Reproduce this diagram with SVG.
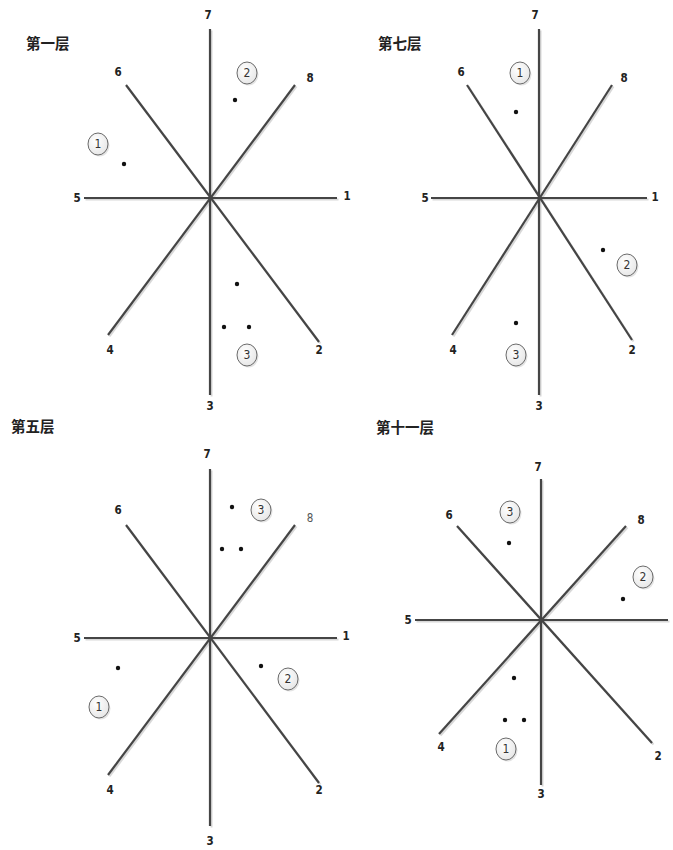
<svg xmlns="http://www.w3.org/2000/svg" width="673" height="850" viewBox="0 0 673 850">
<defs>
<radialGradient id="cg" cx="0.4" cy="0.35" r="0.75"><stop offset="0" stop-color="#ffffff"/><stop offset="1" stop-color="#e4e4e4"/></radialGradient>
<style>
.ax{stroke:#454545;stroke-width:2.2;fill:none;stroke-linecap:butt}
.sh{stroke:#c8c8c8;stroke-width:2;fill:none;opacity:0.7}
.lb{font-family:"DejaVu Sans Condensed","Liberation Sans",sans-serif;font-size:11.5px;font-weight:bold;fill:#222;text-anchor:middle;dominant-baseline:central}
.lt{font-family:"DejaVu Sans Condensed","Liberation Sans",sans-serif;font-size:11.5px;font-weight:normal;fill:#555;text-anchor:middle;dominant-baseline:central}
.tt{font-family:"Liberation Sans","Noto Sans CJK SC",sans-serif;font-size:14.5px;font-weight:bold;fill:#222}
.cn{font-family:"DejaVu Sans Condensed","Liberation Sans",sans-serif;font-size:12px;fill:#333;text-anchor:middle;dominant-baseline:central}
.ce{fill:url(#cg);stroke:#6a6a6a;stroke-width:1}
.cs{fill:#d0d0d0;opacity:0.6}
.dt{fill:#111}
</style>
</defs>
<rect width="673" height="850" fill="#ffffff"/>

<g id="connectors">
 <g transform="translate(1.5,1.5)">
  <line class="sh" x1="210" y1="29" x2="210" y2="395"/>
  <line class="sh" x1="84" y1="198" x2="337" y2="198"/>
  <line class="sh" x1="126" y1="85" x2="319" y2="342"/>
  <line class="sh" x1="295" y1="85" x2="108" y2="335"/>
  <line class="sh" x1="539" y1="29" x2="539" y2="395"/>
  <line class="sh" x1="431" y1="198" x2="647" y2="198"/>
  <line class="sh" x1="467" y1="85" x2="632" y2="340"/>
  <line class="sh" x1="612" y1="85" x2="452" y2="335"/>
  <line class="sh" x1="210" y1="469" x2="210" y2="826"/>
  <line class="sh" x1="84" y1="638" x2="337" y2="638"/>
  <line class="sh" x1="126" y1="525" x2="319" y2="783"/>
  <line class="sh" x1="295" y1="525" x2="108" y2="775"/>
  <line class="sh" x1="541" y1="479" x2="541" y2="785"/>
  <line class="sh" x1="415" y1="620" x2="668" y2="620"/>
  <line class="sh" x1="457" y1="526" x2="652" y2="743"/>
  <line class="sh" x1="626" y1="526" x2="439" y2="734"/>
 </g>
 <line class="ax" x1="210" y1="29" x2="210" y2="395"/>
 <line class="ax" x1="84" y1="198" x2="337" y2="198"/>
 <line class="ax" x1="126" y1="85" x2="319" y2="342"/>
 <line class="ax" x1="295" y1="85" x2="108" y2="335"/>
 <line class="ax" x1="539" y1="29" x2="539" y2="395"/>
 <line class="ax" x1="431" y1="198" x2="647" y2="198"/>
 <line class="ax" x1="467" y1="85" x2="632" y2="340"/>
 <line class="ax" x1="612" y1="85" x2="452" y2="335"/>
 <line class="ax" x1="210" y1="469" x2="210" y2="826"/>
 <line class="ax" x1="84" y1="638" x2="337" y2="638"/>
 <line class="ax" x1="126" y1="525" x2="319" y2="783"/>
 <line class="ax" x1="295" y1="525" x2="108" y2="775"/>
 <line class="ax" x1="541" y1="479" x2="541" y2="785"/>
 <line class="ax" x1="415" y1="620" x2="668" y2="620"/>
 <line class="ax" x1="457" y1="526" x2="652" y2="743"/>
 <line class="ax" x1="626" y1="526" x2="439" y2="734"/>
</g>

<g id="panel1">
 <text class="tt" x="26" y="49">第一层</text>
 <text class="lb" x="208" y="15">7</text>
 <text class="lb" x="118" y="72">6</text>
 <text class="lb" x="310" y="78">8</text>
 <text class="lb" x="77" y="198">5</text>
 <text class="lb" x="347" y="196">1</text>
 <text class="lb" x="110" y="350">4</text>
 <text class="lb" x="319" y="350">2</text>
 <text class="lb" x="210" y="406">3</text>
 <g id="p1c1"><ellipse class="cs" cx="99.5" cy="145.5" rx="10" ry="11"/><ellipse class="ce" cx="98" cy="144" rx="10" ry="11"/><text class="cn" x="98" y="144">1</text></g>
 <g id="p1c2"><ellipse class="cs" cx="248.5" cy="74.5" rx="10" ry="11"/><ellipse class="ce" cx="247" cy="73" rx="10" ry="11"/><text class="cn" x="247" y="73">2</text></g>
 <g id="p1c3"><ellipse class="cs" cx="248.5" cy="356.5" rx="10" ry="11"/><ellipse class="ce" cx="247" cy="355" rx="10" ry="11"/><text class="cn" x="247" y="355">3</text></g>
 <circle class="dt" cx="124" cy="164" r="2.2"/>
 <circle class="dt" cx="235" cy="100" r="2.2"/>
 <circle class="dt" cx="237" cy="284" r="2.2"/>
 <circle class="dt" cx="224" cy="327" r="2.2"/>
 <circle class="dt" cx="249" cy="327" r="2.2"/>
</g>

<g id="panel2">
 <text class="tt" x="378" y="49">第七层</text>
 <text class="lb" x="535" y="15">7</text>
 <text class="lb" x="461" y="72">6</text>
 <text class="lb" x="624" y="78">8</text>
 <text class="lb" x="425" y="198">5</text>
 <text class="lb" x="655" y="197">1</text>
 <text class="lb" x="453" y="350">4</text>
 <text class="lb" x="632" y="350">2</text>
 <text class="lb" x="539" y="406">3</text>
 <g id="p2c1"><ellipse class="cs" cx="521.5" cy="74.5" rx="10" ry="11"/><ellipse class="ce" cx="520" cy="73" rx="10" ry="11"/><text class="cn" x="520" y="73">1</text></g>
 <g id="p2c2"><ellipse class="cs" cx="628.5" cy="266.5" rx="10" ry="11"/><ellipse class="ce" cx="627" cy="265" rx="10" ry="11"/><text class="cn" x="627" y="265">2</text></g>
 <g id="p2c3"><ellipse class="cs" cx="517.5" cy="356.5" rx="10" ry="11"/><ellipse class="ce" cx="516" cy="355" rx="10" ry="11"/><text class="cn" x="516" y="355">3</text></g>
 <circle class="dt" cx="516" cy="112" r="2.2"/>
 <circle class="dt" cx="603" cy="250" r="2.2"/>
 <circle class="dt" cx="516" cy="323" r="2.2"/>
</g>

<g id="panel3">
 <text class="tt" x="11" y="432">第五层</text>
 <text class="lb" x="207" y="454">7</text>
 <text class="lb" x="118" y="510">6</text>
 <text class="lt" x="310" y="518">8</text>
 <text class="lb" x="77" y="638">5</text>
 <text class="lb" x="346" y="636">1</text>
 <text class="lb" x="110" y="790">4</text>
 <text class="lb" x="319" y="790">2</text>
 <text class="lb" x="210" y="841">3</text>
 <g id="p3c1"><ellipse class="cs" cx="100.5" cy="708.5" rx="10" ry="11"/><ellipse class="ce" cx="99" cy="707" rx="10" ry="11"/><text class="cn" x="99" y="707">1</text></g>
 <g id="p3c2"><ellipse class="cs" cx="289.5" cy="680.5" rx="10" ry="11"/><ellipse class="ce" cx="288" cy="679" rx="10" ry="11"/><text class="cn" x="288" y="679">2</text></g>
 <g id="p3c3"><ellipse class="cs" cx="262.5" cy="511.5" rx="10" ry="11"/><ellipse class="ce" cx="261" cy="510" rx="10" ry="11"/><text class="cn" x="261" y="510">3</text></g>
 <circle class="dt" cx="232" cy="507" r="2.2"/>
 <circle class="dt" cx="222" cy="549" r="2.2"/>
 <circle class="dt" cx="241" cy="549" r="2.2"/>
 <circle class="dt" cx="118" cy="668" r="2.2"/>
 <circle class="dt" cx="261" cy="666" r="2.2"/>
</g>

<g id="panel4">
 <text class="tt" x="376" y="433">第十一层</text>
 <text class="lb" x="538" y="467">7</text>
 <text class="lb" x="449" y="515">6</text>
 <text class="lb" x="641" y="520">8</text>
 <text class="lb" x="408" y="620">5</text>
 <text class="lb" x="441" y="747">4</text>
 <text class="lb" x="658" y="756">2</text>
 <text class="lb" x="541" y="794">3</text>
 <g id="p4c1"><ellipse class="cs" cx="507.5" cy="750.5" rx="10" ry="11"/><ellipse class="ce" cx="506" cy="749" rx="10" ry="11"/><text class="cn" x="506" y="749">1</text></g>
 <g id="p4c2"><ellipse class="cs" cx="644.5" cy="578.5" rx="10" ry="11"/><ellipse class="ce" cx="643" cy="577" rx="10" ry="11"/><text class="cn" x="643" y="577">2</text></g>
 <g id="p4c3"><ellipse class="cs" cx="511.5" cy="513.5" rx="10" ry="11"/><ellipse class="ce" cx="510" cy="512" rx="10" ry="11"/><text class="cn" x="510" y="512">3</text></g>
 <circle class="dt" cx="509" cy="543" r="2.2"/>
 <circle class="dt" cx="623" cy="599" r="2.2"/>
 <circle class="dt" cx="514" cy="678" r="2.2"/>
 <circle class="dt" cx="505" cy="720" r="2.2"/>
 <circle class="dt" cx="524" cy="720" r="2.2"/>
</g>
</svg>
